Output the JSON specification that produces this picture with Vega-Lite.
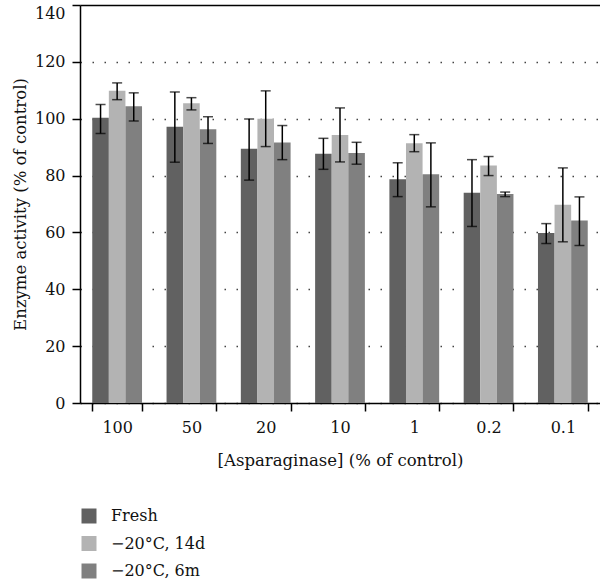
{
  "$schema": "https://vega.github.io/schema/vega-lite/v6.json",
  "width": 520,
  "height": 398,
  "autosize": {"type": "none"},
  "padding": {"left": 80, "top": 5, "right": 0, "bottom": 178},
  "config": {
    "font": "DejaVu Serif",
    "view": {"stroke": null},
    "axis": {
      "labelFont": "DejaVu Serif",
      "titleFont": "DejaVu Serif",
      "labelFontSize": 16,
      "titleFontSize": 16.5,
      "titleFontWeight": "normal",
      "labelColor": "#111",
      "titleColor": "#111",
      "domainColor": "#000",
      "domainWidth": 1.5,
      "tickColor": "#000",
      "tickWidth": 1.5,
      "tickSize": 8
    },
    "legend": {
      "labelFont": "DejaVu Serif",
      "labelFontSize": 16,
      "labelColor": "#111"
    }
  },
  "data": {
    "values": [
      {"conc": "100", "group": "Fresh", "mean": 100.3, "lo": 94.8, "hi": 105.0},
      {"conc": "100", "group": "−20°C, 14d", "mean": 109.8, "lo": 106.7, "hi": 112.6},
      {"conc": "100", "group": "−20°C, 6m", "mean": 104.4, "lo": 99.2, "hi": 109.1},
      {"conc": "50", "group": "Fresh", "mean": 97.2, "lo": 84.7, "hi": 109.4},
      {"conc": "50", "group": "−20°C, 14d", "mean": 105.4, "lo": 103.1, "hi": 107.4},
      {"conc": "50", "group": "−20°C, 6m", "mean": 96.3, "lo": 91.3, "hi": 100.7},
      {"conc": "20", "group": "Fresh", "mean": 89.4, "lo": 78.4, "hi": 99.9},
      {"conc": "20", "group": "−20°C, 14d", "mean": 100.0, "lo": 90.2, "hi": 109.8},
      {"conc": "20", "group": "−20°C, 6m", "mean": 91.6, "lo": 85.6, "hi": 97.6},
      {"conc": "10", "group": "Fresh", "mean": 87.7, "lo": 82.2, "hi": 93.1},
      {"conc": "10", "group": "−20°C, 14d", "mean": 94.3, "lo": 84.8, "hi": 103.8},
      {"conc": "10", "group": "−20°C, 6m", "mean": 87.9, "lo": 84.0, "hi": 91.7},
      {"conc": "1", "group": "Fresh", "mean": 78.7, "lo": 72.6, "hi": 84.5},
      {"conc": "1", "group": "−20°C, 14d", "mean": 91.4, "lo": 88.4, "hi": 94.4},
      {"conc": "1", "group": "−20°C, 6m", "mean": 80.5, "lo": 69.0, "hi": 91.5},
      {"conc": "0.2", "group": "Fresh", "mean": 74.0, "lo": 62.1, "hi": 85.6},
      {"conc": "0.2", "group": "−20°C, 14d", "mean": 83.5, "lo": 80.0, "hi": 86.7},
      {"conc": "0.2", "group": "−20°C, 6m", "mean": 73.5, "lo": 72.6, "hi": 74.2},
      {"conc": "0.1", "group": "Fresh", "mean": 59.8, "lo": 56.1, "hi": 63.1},
      {"conc": "0.1", "group": "−20°C, 14d", "mean": 69.7, "lo": 56.7, "hi": 82.7},
      {"conc": "0.1", "group": "−20°C, 6m", "mean": 64.2, "lo": 55.4, "hi": 72.5}
    ]
  },
  "encoding": {
    "x": {
      "field": "conc",
      "type": "nominal",
      "sort": ["100", "50", "20", "10", "1", "0.2", "0.1"],
      "scale": {"paddingInner": 0.33, "paddingOuter": 0.165},
      "axis": {
        "title": "[Asparaginase] (% of control)",
        "labelAngle": 0,
        "tickBand": "extent",
        "labelPadding": 8,
        "titlePadding": 17
      }
    },
    "xOffset": {
      "field": "group",
      "type": "nominal",
      "sort": ["Fresh", "−20°C, 14d", "−20°C, 6m"]
    }
  },
  "layer": [
    {
      "mark": {"type": "bar"},
      "encoding": {
        "y": {
          "field": "mean",
          "type": "quantitative",
          "scale": {"domain": [0, 140]},
          "axis": {
            "title": "Enzyme activity (% of control)",
            "values": [0, 20, 40, 60, 80, 100, 120, 140],
            "grid": true,
            "gridColor": {"condition": {"test": "datum.value === 140", "value": "#000"}, "value": "#444"},
            "gridWidth": 1.5,
            "gridDash": {"condition": {"test": "datum.value === 140", "value": []}, "value": [1.5, 10.5]},
            "labelBaseline": {"condition": {"test": "datum.value === 140", "value": "top"}, "value": "middle"},
            "labelPadding": 7,
            "titlePadding": 6
          }
        },
        "color": {
          "field": "group",
          "type": "nominal",
          "sort": ["Fresh", "−20°C, 14d", "−20°C, 6m"],
          "scale": {
            "domain": ["Fresh", "−20°C, 14d", "−20°C, 6m"],
            "range": ["#616161", "#b3b3b3", "#808080"]
          },
          "legend": {
            "title": null,
            "orient": "none",
            "legendX": 1,
            "legendY": 503,
            "symbolType": "square",
            "symbolSize": 225,
            "symbolStrokeWidth": 0,
            "rowPadding": 11.5,
            "labelOffset": 14
          }
        }
      }
    },
    {
      "mark": {"type": "rule", "color": "#000", "strokeWidth": 1.5},
      "encoding": {
        "y": {"field": "lo", "type": "quantitative"},
        "y2": {"field": "hi"}
      }
    },
    {
      "mark": {"type": "tick", "color": "#000", "thickness": 1.5, "size": 10, "orient": "horizontal"},
      "encoding": {"y": {"field": "lo", "type": "quantitative"}}
    },
    {
      "mark": {"type": "tick", "color": "#000", "thickness": 1.5, "size": 10, "orient": "horizontal"},
      "encoding": {"y": {"field": "hi", "type": "quantitative"}}
    }
  ]
}
